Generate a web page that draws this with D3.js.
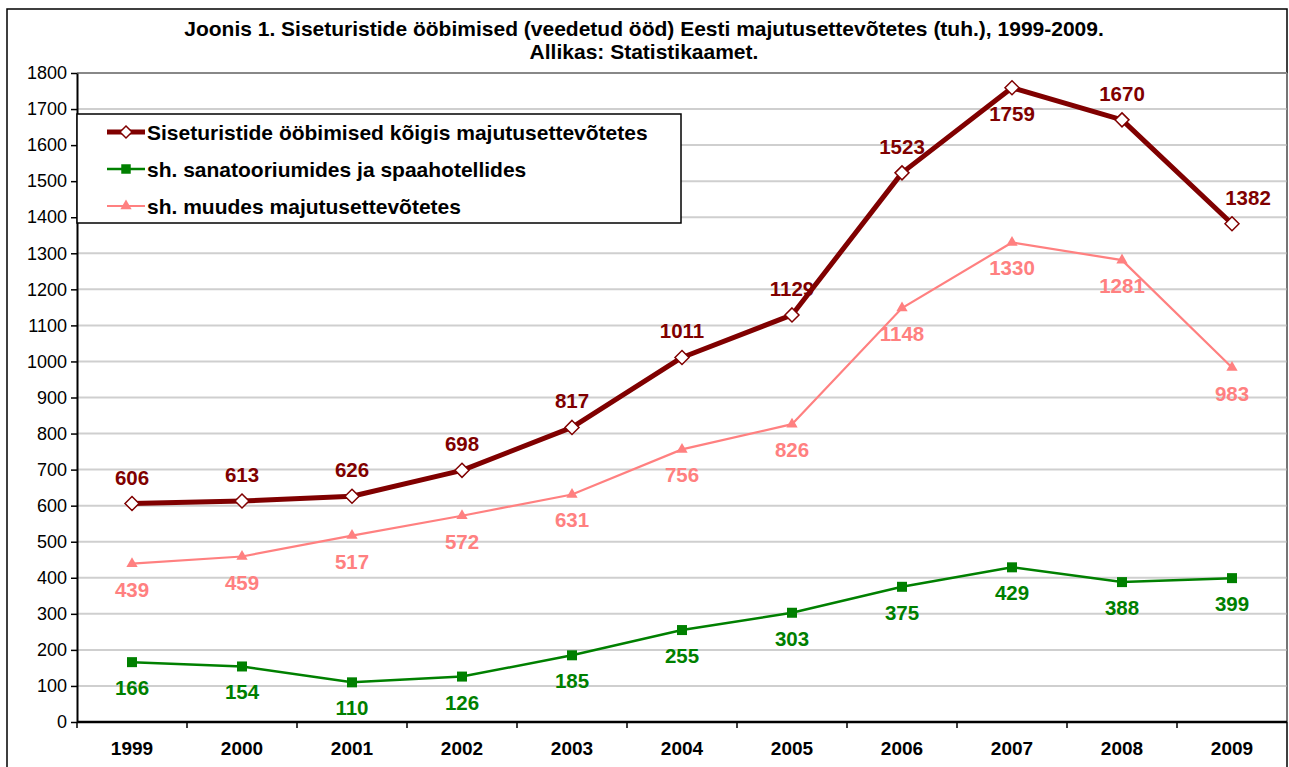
<!DOCTYPE html>
<html>
<head>
<meta charset="utf-8">
<script src="https://cdn.jsdelivr.net/npm/d3@7"></script>
<style>
  body { margin: 0; background: #fff; }
  text { font-family: "Liberation Sans", Arial, sans-serif; }
</style>
</head>
<body>
<div id="chart"></div>
<script>
// categories and series (thousands of nights)
var years = ["1999", "2000", "2001", "2002", "2003", "2004", "2005", "2006", "2007", "2008", "2009"];
var totalNights = [606, 613, 626, 698, 817, 1011, 1129, 1523, 1759, 1670, 1382];
var spaNights = [166, 154, 110, 126, 185, 255, 303, 375, 429, 388, 399];
var otherNights = [439, 459, 517, 572, 631, 756, 826, 1148, 1330, 1281, 983];
var yTicks = d3.range(0, 1801, 100);

var seriesNames = [
    "Siseturistide ööbimised kõigis majutusettevõtetes",
    "sh. sanatooriumides ja spaahotellides",
    "sh. muudes majutusettevõtetes"
];
// where the value label sits relative to the point
var totalLabelPos = ["up", "up", "up", "up", "up", "up", "up", "up", "down", "up", "up"];

var width = 1289, height = 767;
var margin = { top: 73, right: 2, bottom: 45, left: 77 };

var svg = d3.select("#chart").append("svg")
    .attr("width", width)
    .attr("height", height);

// outer chart border
svg.append("path")
    .attr("d", "M7," + height + "V9H1287V" + height)
    .attr("fill", "none")
    .attr("stroke", "#000")
    .attr("stroke-width", 1.5);

// title
svg.append("text")
    .attr("x", 644).attr("y", 36)
    .attr("text-anchor", "middle")
    .style("font-size", "21px").style("font-weight", "bold")
    .text("Joonis 1. Siseturistide ööbimised (veedetud ööd) Eesti majutusettevõtetes (tuh.), 1999-2009.");
svg.append("text")
    .attr("x", 644).attr("y", 59)
    .attr("text-anchor", "middle")
    .style("font-size", "21px").style("font-weight", "bold")
    .text("Allikas: Statistikaamet.");

var x = d3.scaleBand()
    .domain(years)
    .range([margin.left, width - margin.right]);

var y = d3.scaleLinear()
    .domain([0, 1800])
    .range([height - margin.bottom, margin.top]);

var g = svg.append("g");

// gridlines
g.selectAll(".grid")
    .data(yTicks.slice(1))
    .enter().append("line")
    .attr("x1", margin.left).attr("x2", width - margin.right)
    .attr("y1", function (d) { return y(d); })
    .attr("y2", function (d) { return y(d); })
    .attr("stroke", function (d) { return d === 1800 ? "#888" : "#cfcfcf"; })
    .attr("stroke-width", 2);

// plot right border
g.append("line")
    .attr("x1", width - margin.right).attr("x2", width - margin.right)
    .attr("y1", y(1800)).attr("y2", y(0))
    .attr("stroke", "#888").attr("stroke-width", 1.5);

// y axis
var yAxis = g.append("g")
    .attr("transform", "translate(" + margin.left + ",0)")
    .call(d3.axisLeft(y).tickValues(yTicks).tickFormat(d3.format("d"))
        .tickSize(6).tickPadding(4).tickSizeOuter(0));
yAxis.select(".domain").attr("stroke-width", 2);
yAxis.selectAll(".tick line").attr("stroke-width", 1.5);
yAxis.selectAll("text")
    .style("font-size", "18px")
    .attr("fill", "#000");

// x axis, ticks at category boundaries
var xAxis = g.append("g")
    .attr("transform", "translate(0," + y(0) + ")")
    .call(d3.axisBottom(x).tickSize(0).tickPadding(20));
xAxis.select(".domain").attr("stroke-width", 2.5)
    .attr("d", "M" + margin.left + ",0H" + (width - margin.right));
xAxis.selectAll("text")
    .style("font-size", "19px").style("font-weight", "bold")
    .attr("fill", "#000");
g.selectAll(".xtick")
    .data(years)
    .enter().append("line")
    .attr("x1", function (d) { return x(d); })
    .attr("x2", function (d) { return x(d); })
    .attr("y1", y(0)).attr("y2", y(0) + 6)
    .attr("stroke", "#000").attr("stroke-width", 1.5);

var cx = function (d, i) { return x(years[i]) + x.bandwidth() / 2; };

var line = d3.line()
    .x(function (d, i) { return cx(d, i); })
    .y(function (d) { return y(d); });

// other accommodation series (pink)
g.append("path")
    .datum(otherNights)
    .attr("d", line)
    .attr("fill", "none").attr("stroke", "#ff8080").attr("stroke-width", 2.2);
g.selectAll(".tri")
    .data(otherNights)
    .enter().append("path")
    .attr("d", d3.symbol().type(d3.symbolTriangle).size(55))
    .attr("transform", function (d, i) { return "translate(" + cx(d, i) + "," + y(d) + ")"; })
    .attr("fill", "#ff8080");

// spa series (green)
g.append("path")
    .datum(spaNights)
    .attr("d", line)
    .attr("fill", "none").attr("stroke", "#008000").attr("stroke-width", 2.5);
g.selectAll(".sq")
    .data(spaNights)
    .enter().append("rect")
    .attr("x", function (d, i) { return cx(d, i) - 5; })
    .attr("y", function (d) { return y(d) - 5; })
    .attr("width", 10).attr("height", 10)
    .attr("fill", "#008000");

// total series (dark red)
g.append("path")
    .datum(totalNights)
    .attr("d", line)
    .attr("fill", "none").attr("stroke", "#800000").attr("stroke-width", 5)
    .attr("stroke-linejoin", "round");
g.selectAll(".dia")
    .data(totalNights)
    .enter().append("path")
    .attr("d", "M0,-7L7,0L0,7L-7,0Z")
    .attr("transform", function (d, i) { return "translate(" + cx(d, i) + "," + y(d) + ")"; })
    .attr("fill", "#fff").attr("stroke", "#800000").attr("stroke-width", 1.5);

// value labels
function addLabels(data, color, posFn, dxFn) {
    g.selectAll(null)
        .data(data)
        .enter().append("text")
        .attr("x", function (d, i) { return cx(d, i) + dxFn(i); })
        .attr("y", function (d, i) { return y(d) + (posFn(i) === "up" ? -19 : 33); })
        .attr("text-anchor", "middle")
        .style("font-size", "20.5px").style("font-weight", "bold")
        .attr("fill", color)
        .text(function (d) { return d; });
}
addLabels(totalNights, "#800000",
    function (i) { return totalLabelPos[i]; },
    function (i) { return i === years.length - 1 ? 16 : 0; });
addLabels(spaNights, "#008000", function () { return "down"; }, function () { return 0; });
addLabels(otherNights, "#ff8080", function () { return "down"; }, function () { return 0; });

// legend
var legend = svg.append("g").attr("transform", "translate(77,114)");
legend.append("rect")
    .attr("width", 604).attr("height", 109)
    .attr("fill", "#fff").attr("stroke", "#000").attr("stroke-width", 1.5);

var legendRows = legend.selectAll(".lg")
    .data(seriesNames)
    .enter().append("g")
    .attr("transform", function (d, i) { return "translate(0," + (18 + i * 37) + ")"; });

var legendColors = ["#800000", "#008000", "#ff8080"];
var legendWidths = [5, 2.5, 2.2];
legendRows.append("line")
    .attr("x1", 30).attr("x2", 68)
    .attr("stroke", function (d, i) { return legendColors[i]; })
    .attr("stroke-width", function (d, i) { return legendWidths[i]; });
legendRows.append("path")
    .attr("d", function (d, i) {
        if (i === 0) return "M0,-6L6,0L0,6L-6,0Z";
        if (i === 1) return d3.symbol().type(d3.symbolSquare).size(90)();
        return d3.symbol().type(d3.symbolTriangle).size(55)();
    })
    .attr("transform", "translate(49,0)")
    .attr("fill", function (d, i) { return i === 0 ? "#fff" : legendColors[i]; })
    .attr("stroke", function (d, i) { return i === 0 ? "#800000" : "none"; })
    .attr("stroke-width", 1.5);
legendRows.append("text")
    .attr("x", 70).attr("y", 7.5)
    .style("font-size", "21px").style("font-weight", "bold")
    .attr("fill", "#000")
    .text(function (d) { return d; });
</script>
</body>
</html>
